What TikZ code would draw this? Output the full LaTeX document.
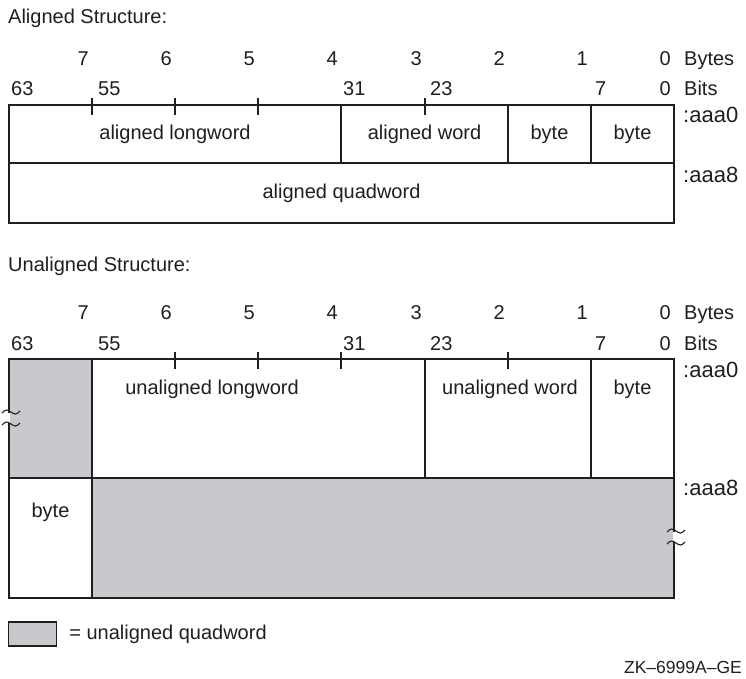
\documentclass[tikz,border=0pt]{standalone}
\usepackage{fontspec}
\setmainfont{Liberation Sans}
\usetikzlibrary{positioning}
\definecolor{qgray}{RGB}{200,201,204}
\definecolor{ink}{RGB}{30,30,35}

% break mark on a vertical edge: x of the edge, y of the upper wave
\newcommand{\wavebreak}[2]{%
  \draw[white, line width=2.4pt] (#1,#2+1) -- (#1,#2+11);
  \draw[wavy] (#1-7,#2+1) sin (#1-2.5,#2-2) cos (#1+2,#2) sin (#1+6.5,#2+2) cos (#1+11,#2-1);
  \draw[wavy] (#1-7,#2+13) sin (#1-2.5,#2+10) cos (#1+2,#2+12) sin (#1+6.5,#2+14) cos (#1+11,#2+11);
}

\begin{document}
\begin{tikzpicture}[
  x=1pt, y=-1pt,
  every node/.style={font=\fontsize{20}{24}\selectfont, text=ink, inner sep=0pt},
  cell/.style={rectangle, draw=ink, line width=1.2pt},
  qcell/.style={cell, fill=qgray},
  bittick/.style={draw=ink, line width=1.2pt},
  wavy/.style={draw=ink, line width=1.1pt},
  num/.style={anchor=base east},
  lbl/.style={anchor=base west},
  addr/.style={lbl, font=\fontsize{22}{26}\selectfont},
]
  \useasboundingbox (0,0) rectangle (746,678);

  % Aligned structure
  \node[lbl] (atitle) at (8,23) {Aligned Structure:};
  \foreach \b/\n in {92/7,175/6,258/5,341/4,425/3,508/2,591/1,674/0}
    \node[num] (abyte\n) at (\b-3,65) {\n};
  \node[lbl] (abytes) at (684,65) {Bytes};
  \node[lbl] (abit63) at (11,95) {63};
  \node[lbl] (abit55) at (98,95) {55};
  \node[lbl] (abit31) at (343,95) {31};
  \node[lbl] (abit23) at (430,95) {23};
  \node[lbl] (abit7) at (595,95) {7};
  \node[num] (abit0) at (671,95) {0};
  \node[lbl] (abits) at (684,95) {Bits};

  \node[cell, minimum width=332pt, minimum height=58pt] (alw) at (175,134) {aligned longword};
  \node[cell, minimum width=167pt, minimum height=58pt] (awd) at (424.5,134) {aligned word};
  \node[cell, minimum width=83pt, minimum height=58pt] (ab1) at (549.5,134) {byte};
  \node[cell, minimum width=83pt, minimum height=58pt] (ab0) at (632.5,134) {byte};
  \node[cell, minimum width=665pt, minimum height=60pt] (aqw) at (341.5,193) {aligned quadword};
  \foreach \t in {92,175,258,425}
    \draw[bittick] (\t,98) -- (\t,115);
  \node[addr] (aaddr0) at (683,122) {:aaa0};
  \node[addr] (aaddr8) at (683,182) {:aaa8};

  % Unaligned structure
  \node[lbl] (utitle) at (8,271) {Unaligned Structure:};
  \foreach \b/\n in {92/7,175/6,258/5,341/4,425/3,508/2,591/1,674/0}
    \node[num] (ubyte\n) at (\b-3,319) {\n};
  \node[lbl] (ubytes) at (684,319) {Bytes};
  \node[lbl] (ubit63) at (11,350) {63};
  \node[lbl] (ubit55) at (98,350) {55};
  \node[lbl] (ubit31) at (343,350) {31};
  \node[lbl] (ubit23) at (430,350) {23};
  \node[lbl] (ubit7) at (595,350) {7};
  \node[num] (ubit0) at (671,350) {0};
  \node[lbl] (ubits) at (684,350) {Bits};

  \node[qcell, minimum width=83pt, minimum height=119pt] (ub7) at (50.5,418.5) {};
  \node[cell, minimum width=333pt, minimum height=119pt] (ulw) at (258.5,418.5) {};
  \node[cell, minimum width=166pt, minimum height=119pt] (uwd) at (508,418.5) {};
  \node[cell, minimum width=83pt, minimum height=119pt] (ub0) at (632.5,418.5) {};
  \node[cell, minimum width=83pt, minimum height=120pt] (ub8) at (50.5,538) {};
  \node[qcell, minimum width=582pt, minimum height=120pt] (uqr) at (383,538) {};
  \foreach \t in {175,258,341,508}
    \draw[bittick] (\t,352) -- (\t,369);
  \node (ulwtext) at (212,389) {unaligned longword};
  \node (uwdtext) at (510,389) {unaligned word};
  \node (ub0text) at (632.5,389) {byte};
  \node (ub8text) at (50.5,512) {byte};
  \wavebreak{9}{412}
  \wavebreak{674}{531}
  \node[addr] (uaddr0) at (683,377) {:aaa0};
  \node[addr] (uaddr8) at (683,495) {:aaa8};

  % Legend
  \node[qcell, minimum width=48pt, minimum height=24pt] (legbox) at (32.5,634) {};
  \node[right=12pt of legbox] (legtext) {= unaligned quadword};
  \node[anchor=base east, font=\fontsize{17.5}{21}\selectfont] (figid) at (742,673) {ZK--6999A--GE};
\end{tikzpicture}
\end{document}
